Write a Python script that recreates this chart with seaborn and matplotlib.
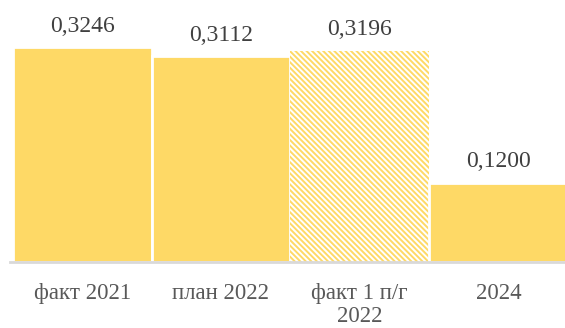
import seaborn as sns
import pandas as pd
import matplotlib.pyplot as plt

categories = ['факт 2021', 'план 2022', 'факт 1 п/г\n2022', '2024']
values = [0.3246, 0.3112, 0.3196, 0.1200]
labels = ['0,3246', '0,3112', '0,3196', '0,1200']

df = pd.DataFrame({'cat': categories, 'val': values})

sns.set_style('white')
plt.rcParams['font.family'] = ['Liberation Serif', 'DejaVu Serif']
plt.rcParams['hatch.linewidth'] = 1.4

fig = plt.figure(figsize=(5.65, 3.28), dpi=100)
ax = fig.add_axes([10 / 565, 66 / 328, 555 / 565, 262 / 328])

gold = '#FED966'
sns.barplot(x='cat', y='val', data=df, color=gold, width=1.0, saturation=1,
            edgecolor='white', linewidth=2, ax=ax)

# hatched bar for the half-year fact
p = ax.patches[2]
p.set_facecolor('white')
p.set_hatch('\\' * 6)
p.set_edgecolor(gold)
p.set_linewidth(0)

for i, (v, t) in enumerate(zip(values, labels)):
    ax.annotate(t, (i, v), xytext=(0, 11), textcoords='offset points',
                ha='center', va='baseline', fontsize=17, color='#404040')

ax.set_ylim(0, 0.396)
ax.set_xlim(-0.52, 3.48)
ax.set_yticks([])
ax.set_xlabel('')
ax.set_ylabel('')
for s in ['top', 'right', 'left']:
    ax.spines[s].set_visible(False)
ax.spines['bottom'].set_color('#D9D9D9')
ax.spines['bottom'].set_linewidth(2)
ax.tick_params(axis='x', length=0, pad=15, labelsize=16.5, labelcolor='#595959')
for lab in ax.get_xticklabels():
    lab.set_linespacing(1.15)

fig.savefig('out.png', dpi=100)
